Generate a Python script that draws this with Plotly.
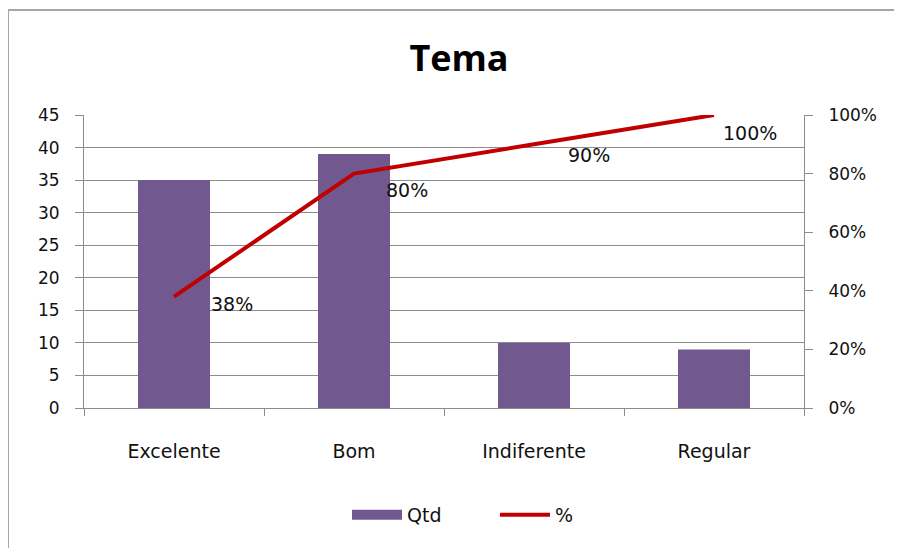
import plotly.graph_objects as go

categories = ["Excelente", "Bom", "Indiferente", "Regular"]
qtd = [35, 39, 10, 9]
pct = [0.38, 0.80, 0.90, 1.00]
pct_labels = ["38%", "80%", "90%", "100%"]
left_ticks = [0, 5, 10, 15, 20, 25, 30, 35, 40, 45]
right_ticks = [0, 0.2, 0.4, 0.6, 0.8, 1.0]

# label offsets (style, pixels)
label_dx = [35, 30, 32, 7]
label_dy = [-7, -16, -11, -18]

FONT = "DejaVu Sans"
GRAY = "#8C8C8C"
PURPLE = "#71598F"
RED = "#C00000"

OFF = 8  # page body margin
W, H = 902 - OFF, 548 - OFF
L, R, T, B = 84 - OFF, 98, 115 - OFF, 140

fig = go.Figure()
fig.add_trace(go.Bar(x=categories, y=qtd, name="Qtd", marker_color=PURPLE,
                     marker_line_width=0, showlegend=False, width=0.4))
fig.add_trace(go.Scatter(x=[None], y=[None], mode="lines", name="Qtd",
                         line=dict(color=PURPLE, width=14), showlegend=True))
fig.add_trace(go.Scatter(x=categories, y=pct, name="%", yaxis="y2", mode="lines",
                         line=dict(color=RED, width=4)))

annotations = []
for c, p, t, dx, dy in zip(categories, pct, pct_labels, label_dx, label_dy):
    annotations.append(dict(x=c, y=p, xref="x", yref="y2", text=t, showarrow=False,
                            xanchor="left", yanchor="middle", xshift=dx, yshift=dy,
                            font=dict(family=FONT, size=19, color="#111111")))

pw, ph = W - L - R, H - T - B
def px_x(v):
    return (v - OFF - L) / pw
def px_y(v):
    return (H - B - (v - OFF)) / ph

fig.update_layout(
    width=W, height=H,
    margin=dict(l=L, r=R, t=T, b=B),
    paper_bgcolor="white", plot_bgcolor="white",
    font=dict(family=FONT, size=17, color="#111111"),
    title=dict(text="<b>Tema</b>", x=(459 - OFF) / W, xref="container", xanchor="center",
               y=1 - (58 - OFF) / H, yref="container", yanchor="middle",
               font=dict(family="Open Sans", size=36, color="black")),
    xaxis=dict(type="category", showline=True, linecolor=GRAY, linewidth=1,
               ticks="outside", tickson="boundaries", ticklen=7, tickcolor=GRAY,
               showgrid=False, ticklabelstandoff=26, range=[-0.5, 3.5],
               tickfont=dict(family=FONT, size=19, color="#111111")),
    yaxis=dict(range=[0, 45], tickvals=left_ticks, showgrid=True, gridcolor=GRAY,
               gridwidth=1, showline=True, linecolor=GRAY, linewidth=1,
               ticks="outside", ticklen=8, tickcolor=GRAY, zeroline=False,
               ticklabelstandoff=12,
               tickfont=dict(family=FONT, size=17, color="#111111")),
    yaxis2=dict(range=[0, 1], tickvals=right_ticks, tickformat=".0%", overlaying="y",
                side="right", showgrid=False, showline=True, linecolor=GRAY,
                linewidth=1, ticks="outside", ticklen=8, tickcolor=GRAY,
                zeroline=False, ticklabelstandoff=12,
                tickfont=dict(family=FONT, size=17, color="#111111")),
    legend=dict(orientation="h", xref="container", yref="container",
                x=(347 - OFF) / W, xanchor="left", y=1 - (515 - OFF) / H, yanchor="middle",
                font=dict(family=FONT, size=19, color="#111111"),
                itemwidth=50, traceorder="normal", entrywidth=83),
    annotations=annotations,
    shapes=[dict(type="rect", xref="paper", yref="paper",
                 x0=px_x(8), x1=px_x(915), y0=px_y(10), y1=px_y(560),
                 line=dict(color="#A6A6A6", width=2), layer="below")],
    showlegend=True,
)

fig.write_html("out.html")
